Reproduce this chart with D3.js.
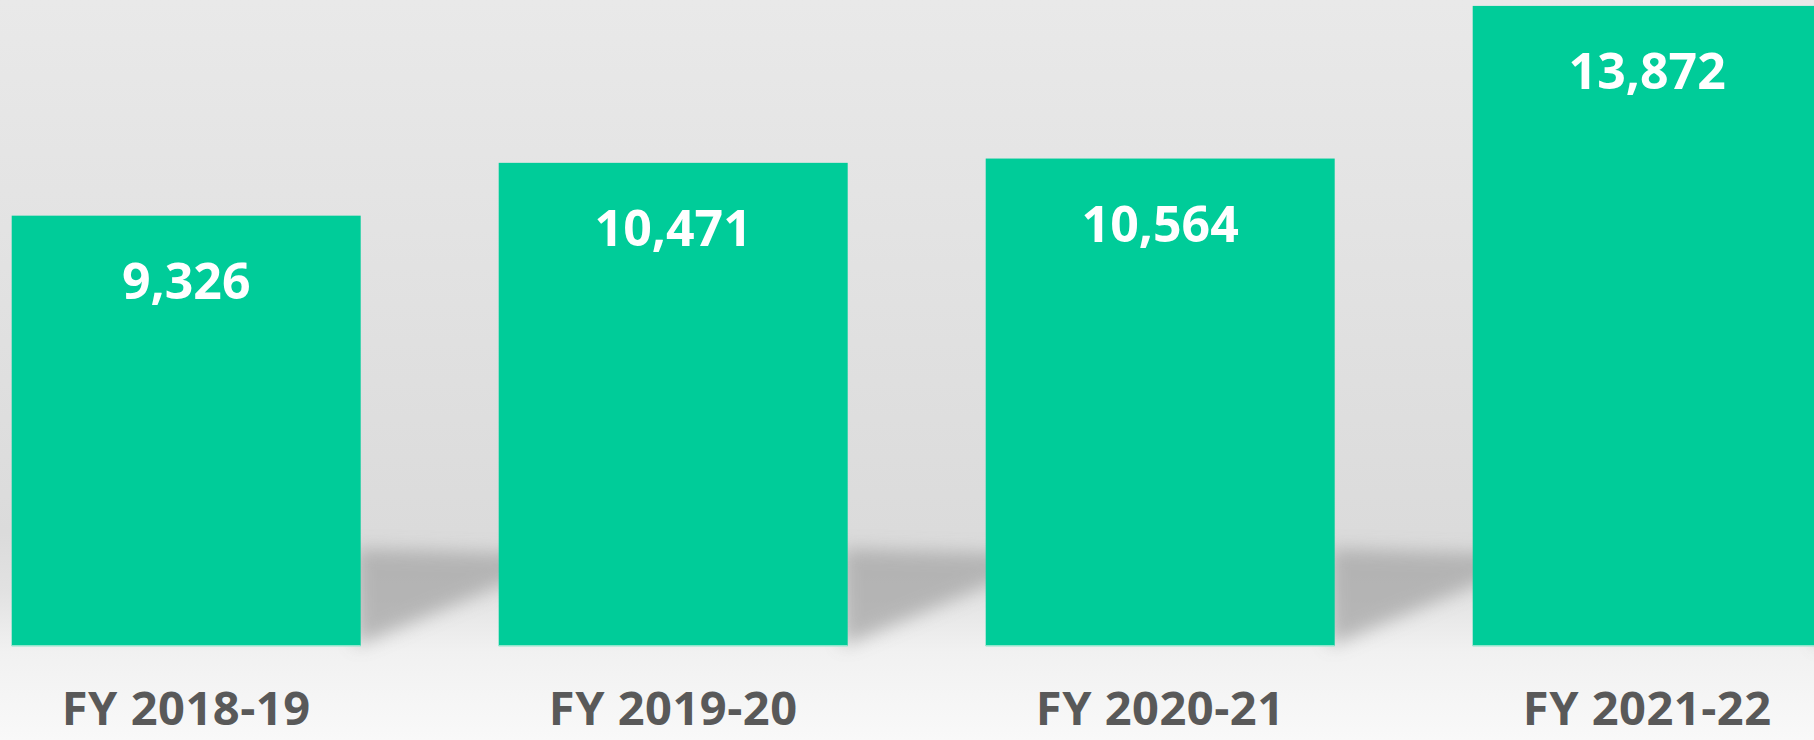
<!DOCTYPE html>
<html>
<head>
<meta charset="utf-8">
<script src="https://cdn.jsdelivr.net/npm/d3@7"></script>
<style>
  html, body { margin: 0; padding: 0; overflow: hidden; }
  svg { display: block; }
</style>
</head>
<body>
<svg class="chart"></svg>
<script>
var years = ["FY 2018-19", "FY 2019-20", "FY 2020-21", "FY 2021-22"];
var counts = [9326, 10471, 10564, 13872];
var yDomain = [0, 14000];

var width = 1814;
var height = 740;
var floorY = 646;

var svg = d3.select(".chart").attr("width", width).attr("height", height);
var defs = svg.append("defs");

// background: grey wall fading into a light floor
var bg = defs.append("linearGradient").attr("id", "bg")
    .attr("x1", 0).attr("y1", 0).attr("x2", 0).attr("y2", 1);
bg.append("stop").attr("offset", 0).attr("stop-color", "#e9e9e9");
bg.append("stop").attr("offset", 0.72).attr("stop-color", "#dbdbdb");
bg.append("stop").attr("offset", 0.8).attr("stop-color", "#e2e2e2");
bg.append("stop").attr("offset", 0.88).attr("stop-color", "#f1f1f1");
bg.append("stop").attr("offset", 1).attr("stop-color", "#f9f9f9");

defs.append("filter").attr("id", "blur")
    .attr("x", "-20%").attr("y", "-20%").attr("width", "140%").attr("height", "140%")
  .append("feGaussianBlur").attr("stdDeviation", 9);

svg.append("rect").attr("width", width).attr("height", height).attr("fill", "url(#bg)");

var x = d3.scaleBand().domain(years).range([11.7, 1821.7]).paddingInner(0.2834).paddingOuter(0);
var y = d3.scaleLinear().domain(yDomain).range([floorY, 0]);

var data = years.map(function(d, i) { return { year: d, value: counts[i] }; });
var fmt = d3.format(",");

// cast shadows to the right of each bar
svg.selectAll(".shadow")
    .data(data)
  .enter().append("path")
    .attr("class", "shadow")
    .attr("fill", "#a5a5a5")
    .attr("opacity", 0.75)
    .attr("filter", "url(#blur)")
    .attr("d", function(d) {
      var r = x(d.year) + x.bandwidth();
      return "M" + (r - 5) + "," + 548 +
             "L" + (r + 190) + "," + 554 +
             "L" + (r + 190) + "," + 564 +
             "L" + (r - 5) + "," + floorY + "Z";
    });

svg.selectAll(".bar")
    .data(data)
  .enter().append("rect")
    .attr("class", "bar")
    .attr("x", function(d) { return x(d.year); })
    .attr("y", function(d) { return y(d.value); })
    .attr("width", x.bandwidth())
    .attr("height", function(d) { return floorY - y(d.value); })
    .attr("fill", "#00cc99");

// faint light rim at the foot of each bar
svg.selectAll(".rim")
    .data(data)
  .enter().append("rect")
    .attr("x", function(d) { return x(d.year); })
    .attr("y", floorY - 1)
    .attr("width", x.bandwidth())
    .attr("height", 1.5)
    .attr("fill", "#8fe6cc");

svg.selectAll(".value")
    .data(data)
  .enter().append("text")
    .attr("class", "value")
    .attr("x", function(d) { return x(d.year) + x.bandwidth() / 2; })
    .attr("y", function(d) { return y(d.value) + 83; })
    .attr("text-anchor", "middle")
    .style("font-family", "'Open Sans', sans-serif")
    .style("font-weight", 700)
    .style("font-size", "50px")
    .style("fill", "#ffffff")
    .text(function(d) { return fmt(d.value); });

svg.selectAll(".label")
    .data(data)
  .enter().append("text")
    .attr("class", "label")
    .attr("x", function(d) { return x(d.year) + x.bandwidth() / 2; })
    .attr("y", 725)
    .attr("text-anchor", "middle")
    .style("font-family", "'Open Sans', sans-serif")
    .style("font-weight", 700)
    .style("font-size", "47px")
    .style("letter-spacing", "0.5px")
    .style("fill", "#595959")
    .text(function(d) { return d.year; });
</script>
</body>
</html>
